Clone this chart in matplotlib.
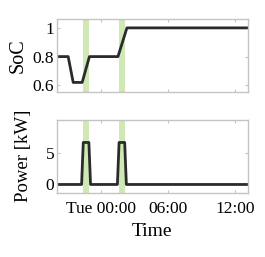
import matplotlib
matplotlib.use("Agg")
import matplotlib.pyplot as plt
import pandas as pd

plt.rcParams['font.family'] = ['Liberation Serif', 'DejaVu Serif']

# data (times as hours relative to Tue 00:00)
soc_hours = [-4.0, -2.95, -2.5, -1.7, -1.05, 1.5, 2.3, 13.1]
soc_values = [0.8, 0.8, 0.62, 0.62, 0.8, 0.8, 1.0, 1.0]
pow_hours = [-4.0, -1.75, -1.6, -1.1, -0.95, 1.45, 1.6, 2.1, 2.25, 13.1]
pow_values = [0.0, 0.0, 6.6, 6.6, 0.0, 0.0, 6.6, 6.6, 0.0, 0.0]
charge_windows = [(-1.6, -1.05), (1.6, 2.1)]
tick_hours = [0, 6, 12]
tick_labels = ['Tue 00:00', '06:00', '12:00']

base = pd.Timestamp('2020-01-07 00:00')
def to_t(h):
    return [base + pd.Timedelta(hours=x) for x in h]

fig, (ax1, ax2) = plt.subplots(2, 1, figsize=(2.65, 2.57), dpi=100)
fig.subplots_adjust(left=0.215, right=0.935, top=0.925, bottom=0.25, hspace=0.37)

frame = '#c4c4c4'
for ax in (ax1, ax2):
    for a, b in charge_windows:
        t = to_t([a, b])
        ax.axvspan(t[0], t[1], color='#cfe8b4', lw=0)
    for s in ax.spines.values():
        s.set_color(frame)
        s.set_linewidth(1.0)
    ax.tick_params(direction='in', length=2, color=frame, top=True, right=True,
                   labelsize=12.5, pad=2)
    ax.tick_params(axis='x', pad=6)
    ax.set_xlim(to_t([-3.95])[0], to_t([13.1])[0])
    ax.set_xticks(to_t(tick_hours))

ax1.plot(to_t(soc_hours), soc_values, color='#2b2b2b', lw=2.0)
ax1.set_ylim(0.55, 1.06)
ax1.set_yticks([0.6, 0.8, 1.0])
ax1.set_yticklabels(['0.6', '0.8', '1'])
ax1.set_xticklabels([])
ax1.set_ylabel('SoC', fontsize=14.5, labelpad=4)

ax2.plot(to_t(pow_hours), pow_values, color='#2b2b2b', lw=2.0)
ax2.set_ylim(-1.3, 10.2)
ax2.set_yticks([0, 5])
ax2.set_xticklabels(tick_labels)
ax2.set_ylabel('Power [kW]', fontsize=13.5, labelpad=10)
ax2.set_xlabel('Time', fontsize=14, labelpad=4)

fig.savefig('out.png')
